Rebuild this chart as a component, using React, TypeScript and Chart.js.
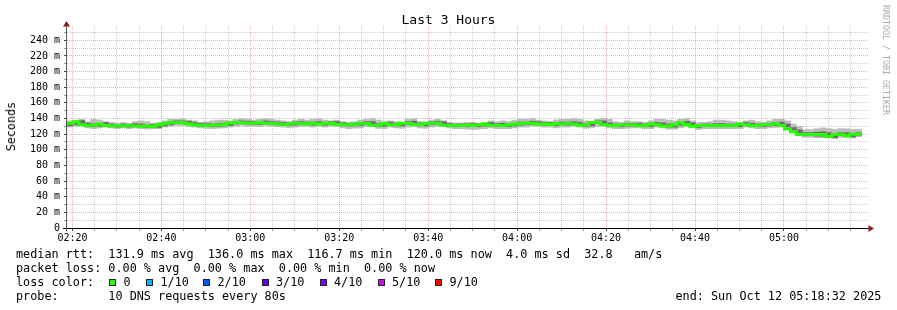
import React, { useEffect, useRef } from 'react';
import { Chart, registerables } from 'chart.js';
Chart.register(...registerables);

// time axis in minutes since midnight
const X_MIN = 138.77;
const X_MAX = 318.9;
const STEP_MIN = 80 / 60;
const Y_MAX = 258.3;

// median rtt per 80 s step (ms)
const median = [
  131.7, 134, 136, 132, 131, 131.5, 133, 131, 130.5, 131,
  130.5, 131, 130.5, 130, 130.5, 130, 132, 133.5, 135, 135,
  134.5, 133, 132, 131.5, 131, 131.5, 132, 132, 134.5, 135,
  134.5, 134, 134, 135, 134, 133.5, 133, 132.5, 133, 134,
  133.5, 133, 134, 133, 134, 134, 132.5, 132, 132, 132.5,
  133.5, 133.5, 131.5, 131.5, 133.5, 132, 132, 134, 134, 132.5,
  132, 133.5, 134, 134, 131.5, 131, 131.5, 131, 131.5, 131,
  132, 133, 131.5, 131.5, 131, 132, 133, 133.5, 134, 134,
  133, 133, 132.5, 133.5, 133, 133.5, 133, 131.5, 132, 135,
  135, 132, 131, 131, 132, 132, 132, 131, 131, 133,
  132, 130.5, 130.5, 132.5, 134.5, 132, 130, 131, 131, 131,
  131, 131, 131, 131, 133, 132, 131, 131, 132, 132.5,
  133.5, 131, 126.6, 123, 119.6, 119.6, 119.6, 119.6, 119.6, 117,
  119.5, 119.5, 118, 120,
];

// outer smoke (min / max ping)
const smokeMax = [
  137, 138, 139, 136, 139, 138, 136, 135, 134, 135,
  134, 136, 137, 136, 134, 135, 137, 139, 139, 140,
  138, 137, 135, 136, 137, 138, 138, 137, 139, 140,
  139, 138, 139, 140, 139, 138, 137, 136, 138, 139,
  138, 139, 140, 138, 137, 138, 136, 135, 136, 138,
  139, 140, 138, 136, 137, 136, 135, 139, 140, 136,
  136, 138, 139, 137, 135, 134, 134.5, 135, 135, 134,
  135, 137, 136, 137, 136, 138, 139, 139, 140, 138,
  137, 136, 138, 139, 139, 140, 139, 137, 136, 139,
  140, 139, 136, 135, 137, 136, 136, 135, 137, 139,
  139, 138, 137, 139, 140, 137, 135, 135, 136, 138,
  138, 137, 136, 135, 137, 138, 136, 135, 137, 139,
  139, 137, 133, 130, 126, 126, 127, 128, 127, 126,
  127, 127, 126, 126,
];
const smokeMin = [
  129, 130, 131, 128, 127, 128, 129, 128, 127, 128,
  127, 128, 127, 126.5, 127, 127, 129, 130, 131, 131,
  130, 129, 128, 127.5, 127, 127.5, 128, 129, 130, 131,
  130, 130, 129.5, 131, 130, 129.5, 129, 128.5, 129, 130,
  130, 129, 130, 129, 130, 130, 128, 127, 127.5, 128,
  129.5, 130, 127.5, 127, 129, 128, 127.5, 129, 130, 128,
  127.5, 129, 130, 130, 128, 127, 127, 126.5, 126, 126.5,
  127, 128, 127, 127, 127, 128, 129, 129, 130, 130,
  129, 129, 128, 129, 129, 130, 129, 127.5, 128, 130,
  131, 128, 127, 127, 127.5, 128, 128, 127, 127, 129,
  128, 126.5, 126.5, 128, 130, 128, 126, 127, 127, 127,
  127, 127, 127, 127, 129, 128, 127, 127, 128, 128.5,
  129, 127, 123, 119, 116, 116, 115.5, 115.5, 116, 114,
  116, 116, 115, 116.5,
];
// inner smoke
const smokeHi = [
  134, 136, 137.5, 134, 133, 133.5, 135, 133, 132.5, 133,
  132.5, 133.5, 133, 132, 132.5, 132.5, 134, 135.5, 137, 137,
  136.5, 135, 134, 133.5, 133, 134, 134, 134, 136.5, 137,
  136.5, 136, 136.5, 137, 136, 135.5, 135, 134.5, 135.5, 136,
  135.5, 135.5, 136, 135, 136, 136, 134.5, 134, 134, 134.5,
  136, 136, 133.5, 133.5, 135.5, 134, 134, 136, 136.5, 134.5,
  134, 135.5, 136.5, 136, 133.5, 133, 133, 133, 133.5, 133,
  134, 135, 133.5, 134, 133, 134, 135.5, 135.5, 136.5, 136,
  135, 135, 134.5, 135.5, 135.5, 136, 135, 133.5, 134, 137,
  137, 134.5, 133, 133, 134, 134, 134, 133, 133.5, 135,
  134.5, 133, 133, 134.5, 136.5, 134.5, 132, 133, 133, 133.5,
  133.5, 133, 133, 133, 135, 134, 133, 133, 134, 134.5,
  135.5, 133, 128.5, 125.5, 122, 122, 122.5, 123, 122, 120,
  122, 122, 120.5, 122,
];
const smokeLo = [
  130.5, 132, 133.5, 130.5, 129.5, 130, 131.5, 129.5, 129, 129.5,
  129, 129.5, 129, 128.5, 129, 128.5, 130.5, 132, 133.5, 133.5,
  133, 131.5, 130.5, 130, 129.5, 130, 130.5, 131, 133, 133.5,
  133, 132.5, 132.5, 133.5, 132.5, 132, 131.5, 131, 131.5, 132.5,
  132, 131.5, 132.5, 131.5, 132.5, 132.5, 131, 130.5, 130.5, 131,
  132, 132, 130, 130, 132, 130.5, 130.5, 132.5, 132.5, 131,
  130.5, 132, 132.5, 132.5, 130, 129.5, 130, 129.5, 130, 129.5,
  130.5, 131.5, 130, 130, 129.5, 130.5, 131.5, 132, 132.5, 132.5,
  131.5, 131.5, 131, 132, 131.5, 132, 131.5, 130, 130.5, 133.5,
  133.5, 130.5, 129.5, 129.5, 130.5, 130.5, 130.5, 129.5, 129.5, 131.5,
  130.5, 129, 129, 131, 133, 130.5, 128.5, 129.5, 129.5, 129.5,
  129.5, 129.5, 129.5, 129.5, 131.5, 130.5, 129.5, 129.5, 130.5, 131,
  132, 129.5, 125, 121.5, 118, 118, 117.5, 117.5, 118, 115.5,
  118, 118, 116.5, 118.5,
];

const X_TICKS = [140, 145, 150, 155, 160, 165, 170, 175, 180, 185, 190, 195, 200, 205, 210, 215, 220, 225, 230, 235, 240, 245, 250, 255, 260, 265, 270, 275, 280, 285, 290, 295, 300, 305, 310, 315];
const Y_TICKS = [0, 10, 20, 30, 40, 50, 60, 70, 80, 90, 100, 110, 120, 130, 140, 150, 160, 170, 180, 190, 200, 210, 220, 230, 240, 250];

const LOSS_LABELS = ['0', '1/10', '2/10', '3/10', '4/10', '5/10', '9/10'];
const LOSS_COLORS = ['#26ff00', '#00b8ff', '#0059ff', '#5e00ff', '#7e00ff', '#dd00ff', '#ff0000'];
const LOSS_BOX_X = [109, 146, 203, 261.5, 319.5, 377.5, 435];

const LEGEND_1 = 'median rtt:  131.9 ms avg  136.0 ms max  116.7 ms min  120.0 ms now  4.0 ms sd  32.8   am/s';
const LEGEND_2 = 'packet loss: 0.00 % avg  0.00 % max  0.00 % min  0.00 % now';
const LEGEND_3 = 'loss color:';
const LEGEND_4 = 'probe:       10 DNS requests every 80s';
const END_TEXT = 'end: Sun Oct 12 05:18:32 2025';

const MONO = '"DejaVu Sans Mono", monospace';
const MAJOR = 'rgba(230,90,90,0.5)';
const MINOR = 'rgba(0,0,0,0.19)';

function fmtTime(v: number) {
  const h = Math.floor(v / 60);
  const m = Math.round(v - h * 60);
  return String(h).padStart(2, '0') + ':' + String(m).padStart(2, '0');
}

const axesPlugin = {
  id: 'rrdAxes',
  afterDatasetsDraw(chart: any) {
    const { ctx, chartArea: a } = chart;
    ctx.save();
    ctx.lineWidth = 1;
    ctx.strokeStyle = '#000';
    ctx.beginPath();
    ctx.moveTo(a.left - 4, a.bottom + 0.5);
    ctx.lineTo(a.right + 2, a.bottom + 0.5);
    ctx.stroke();
    ctx.strokeStyle = '#555';
    ctx.beginPath();
    ctx.moveTo(a.left - 0.5, a.bottom + 3);
    ctx.lineTo(a.left - 0.5, a.top - 3);
    ctx.stroke();
    ctx.fillStyle = '#8e1c1c';
    ctx.beginPath();
    ctx.moveTo(a.left - 0.5, a.top - 5);
    ctx.lineTo(a.left - 4, a.top + 0.5);
    ctx.lineTo(a.left + 3, a.top + 0.5);
    ctx.closePath();
    ctx.fill();
    ctx.beginPath();
    ctx.moveTo(a.right + 6, a.bottom + 0.5);
    ctx.lineTo(a.right + 0.5, a.bottom - 3);
    ctx.lineTo(a.right + 0.5, a.bottom + 4);
    ctx.closePath();
    ctx.fill();
    ctx.restore();
  },
};

export default function App() {
  const ref = useRef<HTMLCanvasElement>(null);
  useEffect(() => {
    document.body.style.margin = '0';
    const canvas = ref.current!;
    const n = median.length;
    const centers = median.map((_, i) => X_MIN + (i + 0.5) * STEP_MIN);
    const starts = median.map((_, i) => X_MIN + i * STEP_MIN);
    const lineData = median.map((v, i) => ({ x: starts[i], y: v }));
    lineData.push({ x: X_MIN + n * STEP_MIN, y: median[n - 1] });

    const chart = new Chart(canvas, {
      type: 'bar',
      data: {
        datasets: [
          {
            type: 'line',
            label: 'median',
            data: lineData,
            borderColor: LOSS_COLORS[0],
            borderWidth: 3,
            pointRadius: 0,
            stepped: 'after',
            fill: false,
            order: 0,
          } as any,
          {
            type: 'bar',
            label: 'inner',
            data: centers.map((x, i) => ({ x, y: [smokeLo[i], smokeHi[i]] })),
            backgroundColor: '#6e6e6e',
            borderWidth: 0,
            grouped: false,
            barPercentage: 1,
            categoryPercentage: 1,
            order: 1,
          } as any,
          {
            type: 'bar',
            label: 'outer',
            data: centers.map((x, i) => ({ x, y: [smokeMin[i], smokeMax[i]] })),
            backgroundColor: '#bdbdbd',
            borderWidth: 0,
            grouped: false,
            barPercentage: 1,
            categoryPercentage: 1,
            order: 2,
          } as any,
        ],
      },
      options: {
        animation: false,
        responsive: false,
        devicePixelRatio: 1,
        layout: { padding: { left: 0, right: 29, top: 26, bottom: 62 } },
        plugins: { legend: { display: false }, tooltip: { enabled: false }, title: { display: false } },
        scales: {
          x: {
            type: 'linear',
            min: X_MIN,
            max: X_MAX,
            offset: false,
            afterBuildTicks: (s: any) => { s.ticks = X_TICKS.map((v) => ({ value: v })); },
            afterFit: (s: any) => { s.height = 20; },
            border: { display: false, dash: [1, 1] },
            grid: {
              offset: false,
              color: (c: any) => (c.tick && c.tick.value % 20 === 0 ? MAJOR : MINOR),
              tickLength: 3,
              tickBorderDash: [],
              tickColor: (c: any) => (c.tick && c.tick.value % 20 === 0 ? '#444' : '#999'),
            } as any,
            ticks: {
              autoSkip: false,
              maxRotation: 0,
              padding: 1,
              color: '#000',
              font: { family: MONO, size: 10 },
              callback: (v: any) => (Number(v) % 20 === 0 ? fmtTime(Number(v)) : ''),
            },
          },
          y: {
            type: 'linear',
            min: 0,
            max: Y_MAX,
            afterBuildTicks: (s: any) => { s.ticks = Y_TICKS.map((v) => ({ value: v })); },
            afterFit: (s: any) => { s.width = 67; },
            border: { display: false, dash: [1, 1] },
            grid: {
              color: (c: any) => (c.tick && c.tick.value % 20 === 0 ? MAJOR : MINOR),
              tickLength: 3,
              tickBorderDash: [],
              tickColor: (c: any) => (c.tick && c.tick.value % 20 === 0 ? '#444' : '#999'),
            } as any,
            ticks: {
              autoSkip: false,
              padding: 4,
              color: '#000',
              font: { family: MONO, size: 10 },
              callback: (v: any) => {
                const n2 = Number(v);
                if (n2 % 20 !== 0) return '';
                return n2 === 0 ? '0' : `${n2} m`;
              },
            },
          },
        },
      },
      plugins: [axesPlugin],
    });
    return () => chart.destroy();
  }, []);

  const line = (top: number, text: string, left = 16) => (
    <div style={{ position: 'absolute', left, top, whiteSpace: 'pre', fontFamily: MONO, fontSize: '11.8px', lineHeight: '14px', color: '#000' }}>{text}</div>
  );

  return (
    <div style={{ position: 'relative', width: 897, height: 310, background: '#fff', overflow: 'hidden' }}>
      <canvas ref={ref} width={897} height={310} style={{ position: 'absolute', left: 0, top: 0 }} />
      <div style={{ position: 'absolute', left: 0, width: 897, top: 12, textAlign: 'center', fontFamily: MONO, fontSize: '13px', lineHeight: '16px', color: '#000' }}>Last 3 Hours</div>
      <div style={{ position: 'absolute', left: 4, top: 102, writingMode: 'vertical-rl', transform: 'rotate(180deg)', fontFamily: MONO, fontSize: '11.7px', lineHeight: '14px', color: '#000' }}>Seconds</div>
      <div style={{ position: 'absolute', left: 881, top: 5, writingMode: 'vertical-rl', fontFamily: MONO, fontSize: '8.3px', lineHeight: '10px', color: '#aaa' }}>RRDTOOL / TOBI OETIKER</div>
      {line(247, LEGEND_1)}
      {line(261, LEGEND_2)}
      {line(275, LEGEND_3)}
      {LOSS_LABELS.map((lab, i) => (
        <React.Fragment key={lab}>
          <div style={{ position: 'absolute', left: LOSS_BOX_X[i], top: 278.5, width: 7, height: 7, boxSizing: 'border-box', border: '1px solid #222', background: LOSS_COLORS[i] }} />
          {line(275, lab, LOSS_BOX_X[i] + 14.5)}
        </React.Fragment>
      ))}
      {line(289, LEGEND_4)}
      {line(289, END_TEXT, 675.5)}
    </div>
  );
}
